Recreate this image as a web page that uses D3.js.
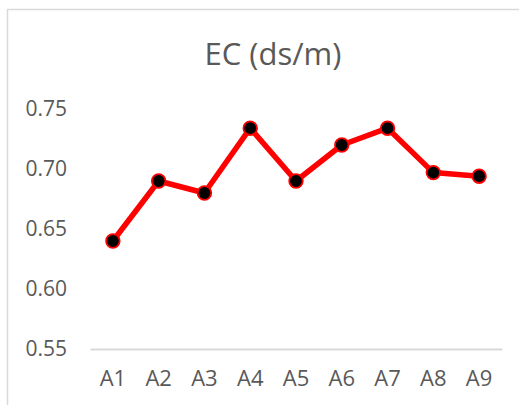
<!DOCTYPE html>
<html>
<head>
<meta charset="utf-8">
<script src="https://cdn.jsdelivr.net/npm/d3@7"></script>
<style>
  body { margin: 0; background: #fff; }
  text { font-family: "Open Sans", sans-serif; fill: #595959; }
</style>
</head>
<body>
<svg id="chart"></svg>
<script>
var categories = ["A1", "A2", "A3", "A4", "A5", "A6", "A7", "A8", "A9"];
var ecValues = [0.64, 0.69, 0.68, 0.734, 0.69, 0.72, 0.734, 0.697, 0.694];
var yTicks = [0.55, 0.60, 0.65, 0.70, 0.75];
var chartTitle = "EC (ds/m)";

var width = 519, height = 405;
var margin = {top: 109, left: 90, right: 17, bottom: 56};

var data = categories.map(function (c, i) { return {cat: c, value: ecValues[i]}; });

var svg = d3.select("#chart")
    .attr("width", width)
    .attr("height", height);

// chart area border (runs off the right and bottom edges)
svg.append("rect")
    .attr("x", 7.5)
    .attr("y", 9.5)
    .attr("width", width + 20)
    .attr("height", height + 20)
    .attr("fill", "#fff")
    .attr("stroke", "#d9d9d9")
    .attr("stroke-width", 1.5);

svg.append("text")
    .attr("x", 273)
    .attr("y", 65)
    .attr("text-anchor", "middle")
    .style("font-size", "31px")
    .text(chartTitle);

var xScale = d3.scaleBand()
    .domain(categories)
    .range([margin.left, width - margin.right]);

var yScale = d3.scaleLinear()
    .domain([0.55, 0.75])
    .range([height - margin.bottom, margin.top]);

// y axis labels, no line
var yAxis = svg.append("g")
    .attr("transform", `translate(${margin.left - 23},0)`)
    .call(d3.axisLeft(yScale).tickValues(yTicks).tickFormat(d3.format(".2f")).tickSize(0).tickPadding(0));
yAxis.select(".domain").remove();
yAxis.selectAll("text")
    .style("font-size", "21px")
    .attr("fill", "#595959")
    .attr("font-family", null);

// x axis
var xAxis = svg.append("g")
    .attr("transform", `translate(0,${yScale(0.55)})`)
    .call(d3.axisBottom(xScale).tickSize(0).tickPadding(21));
xAxis.select(".domain")
    .attr("stroke", "#d9d9d9")
    .attr("stroke-width", 2);
xAxis.selectAll("text")
    .style("font-size", "22px")
    .attr("fill", "#595959")
    .attr("font-family", null);

var line = d3.line()
    .x(d => xScale(d.cat) + xScale.bandwidth() / 2)
    .y(d => yScale(d.value));

svg.append("path")
    .datum(data)
    .attr("fill", "none")
    .attr("stroke", "#ff0000")
    .attr("stroke-width", 5.5)
    .attr("stroke-linejoin", "round")
    .attr("d", line);

svg.append("g").selectAll("circle")
    .data(data)
    .enter()
    .append("circle")
    .attr("cx", d => xScale(d.cat) + xScale.bandwidth() / 2)
    .attr("cy", d => yScale(d.value))
    .attr("r", 6.8)
    .attr("fill", "#000")
    .attr("stroke", "#ff0000")
    .attr("stroke-width", 1.8);
</script>
</body>
</html>
